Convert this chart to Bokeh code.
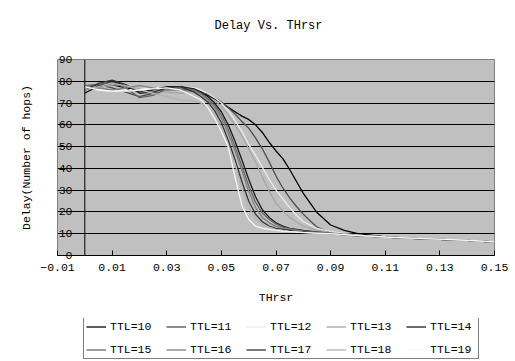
from bokeh.plotting import figure
from bokeh.layouts import column
from bokeh.models import (FixedTicker, CustomJSTickFormatter, Legend, LegendItem, Title, Span,
                          Range1d)
from bokeh.embed import file_html
from bokeh.resources import INLINE

# ---- data ----
THRSR = [0, 0.005, 0.01, 0.015, 0.02, 0.025, 0.03, 0.035, 0.04, 0.0425, 0.045, 0.0475,
         0.05, 0.0525, 0.055, 0.0575, 0.06, 0.0625, 0.065, 0.0675, 0.07, 0.0725, 0.075,
         0.0775, 0.08, 0.085, 0.09, 0.095, 0.1, 0.11, 0.12, 0.13, 0.14, 0.15]

TTL10 = [76, 77.5, 78.5, 77, 76, 76.5, 77.5, 77.5, 76, 75, 73.5, 72, 70, 68, 66, 64, 62.5, 60,
         56.5, 52, 48, 44.5, 39.5, 34, 28.5, 19.7, 14, 11.5, 10, 8.6, 7.9, 7.4, 6.9, 6.2]
TTL11 = [78, 78.5, 77, 75, 73, 74.5, 76.5, 76.5, 76, 75, 74, 72.5, 70.5, 68, 65, 61.5, 58.5, 54,
         49, 43, 36.5, 31, 26.5, 22.5, 19, 13, 10.5, 9.8, 9.3, 8.5, 7.9, 7.4, 6.9, 6.2]
TTL12 = [77, 76, 75.5, 76, 76.5, 77, 77.5, 77, 77, 76, 74.5, 72.5, 70, 66.5, 62, 57, 51, 46,
         40.5, 35, 30, 26, 22, 18.5, 15.5, 12.5, 11, 10, 9.3, 8.4, 7.9, 7.4, 6.9, 6.2]
TTL13 = [75, 77, 78.5, 78, 76.5, 75.5, 75, 74.5, 75.5, 74.5, 73, 71, 68.5, 64.5, 60, 55, 49, 43,
         36, 29.5, 24, 20.5, 17.5, 15.5, 13.5, 11.5, 10.5, 9.8, 9.2, 8.4, 7.9, 7.4, 6.9, 6.2]
TTL14 = [74.5, 78, 80, 78, 75, 76, 77.5, 77.5, 76.5, 75, 73, 70, 66, 60, 52.5, 44, 35, 27,
         21, 17.5, 15, 13.5, 12.5, 12, 11.5, 10.8, 10.2, 9.6, 9.1, 8.4, 7.9, 7.4, 6.9, 6.2]
TTL15 = [77.5, 78.5, 79.5, 77, 72.5, 73.5, 76.5, 77, 76, 74.5, 72, 69, 64.5, 58, 50, 41, 32, 24.5,
         19.5, 16.5, 14.5, 13, 12.3, 11.8, 11.3, 10.6, 10.1, 9.6, 9.1, 8.4, 7.9, 7.4, 6.9, 6.2]
TTL16 = [78, 77, 76, 77, 78, 77, 76, 76, 75.5, 74, 71.5, 68, 63, 56, 48, 39, 29.5, 22,
         17.5, 15, 13.5, 12.5, 12, 11.5, 11, 10.5, 10, 9.5, 9.1, 8.4, 7.9, 7.4, 6.9, 6.2]
TTL17 = [76, 79, 80.5, 78.5, 74.5, 75, 77, 77.5, 75, 73, 70.5, 66.5, 61, 53, 44, 34, 25, 19,
         15.5, 13.5, 12.5, 12, 11.5, 11, 10.8, 10.4, 10, 9.5, 9, 8.4, 7.9, 7.4, 6.9, 6.2]
TTL18 = [76, 77.5, 79, 78, 76, 74.5, 73, 71.5, 71, 70, 68, 64.5, 59, 51, 42, 31, 22, 17,
         14.5, 13, 12, 11.5, 11, 10.7, 10.5, 10.2, 9.9, 9.5, 9, 8.4, 7.9, 7.4, 6.9, 6.2]
TTL19 = [77.5, 76, 75.5, 75.5, 76, 76.5, 77, 76, 73, 71.5, 68, 63, 57, 50, 36, 23, 16.5, 13.5,
         12.5, 12, 11.5, 11.2, 11, 10.8, 10.6, 10.3, 10, 9.6, 9.2, 8.5, 8, 7.5, 7, 6.3]

SERIES_NAMES = ["TTL=10", "TTL=11", "TTL=12", "TTL=13", "TTL=14",
                "TTL=15", "TTL=16", "TTL=17", "TTL=18", "TTL=19"]
SERIES_VALUES = [TTL10, TTL11, TTL12, TTL13, TTL14, TTL15, TTL16, TTL17, TTL18, TTL19]
COLORS = ["#000000", "#4d4d4d", "#ebebeb", "#a6a6a6", "#1a1a1a",
          "#666666", "#808080", "#333333", "#b3b3b3", "#f7f7f7"]

X_TICKS = [-0.01, 0.01, 0.03, 0.05, 0.07, 0.09, 0.11, 0.13, 0.15]
Y_TICKS = [0, 10, 20, 30, 40, 50, 60, 70, 80, 90]
GRID_TICKS = [10, 20, 30, 40, 50, 60, 70, 80]

TITLE = "Delay Vs. THrsr"
X_LABEL = "THrsr"
Y_LABEL = "Delay(Number of hops)"

FONT = "Liberation Mono"

# ---------------- main chart ----------------
p = figure(width=515, height=318, x_range=(-0.01, 0.15), y_range=(0, 90),
           output_backend="svg", toolbar_location=None,
           min_border_left=57, min_border_top=59, min_border_right=21, min_border_bottom=63)

p.background_fill_color = "#c0c0c0"
p.border_fill_color = "white"
p.outline_line_color = "#808080"
p.outline_line_width = 1
p.title.text = ""

p.xgrid.visible = False
p.ygrid.ticker = FixedTicker(ticks=GRID_TICKS)
p.ygrid.grid_line_color = "black"
p.ygrid.grid_line_width = 1

# y axis: labels drawn just left of x = 0 (inside the plot area)
yax = p.yaxis[0]
yax.ticker = FixedTicker(ticks=Y_TICKS)
yax.major_tick_in = 0
yax.major_tick_out = 0
yax.minor_tick_line_color = None
yax.major_label_standoff = -15
yax.axis_line_color = None
yax.major_label_text_font = FONT
yax.major_label_text_font_size = "11.5px"
yax.major_label_text_color = "black"

p.add_layout(Span(location=0, dimension="height", line_color="black", line_width=1))

xax = p.xaxis[0]
xax.ticker = FixedTicker(ticks=X_TICKS)
xax.formatter = CustomJSTickFormatter(
    code="return (tick < 0 ? '\u2212' : '') + Math.abs(tick).toFixed(2);")
xax.major_tick_in = 5
xax.major_tick_out = 0
xax.minor_tick_line_color = None
xax.major_label_standoff = 8
xax.axis_line_color = "black"
xax.major_tick_line_color = "black"
xax.major_label_text_font = FONT
xax.major_label_text_font_size = "11.5px"
xax.major_label_text_color = "black"
xax.axis_label = X_LABEL
xax.axis_label_text_font = FONT
xax.axis_label_text_font_size = "11.5px"
xax.axis_label_text_font_style = "normal"
xax.axis_label_text_color = "black"
xax.axis_label_standoff = 17

# title (above) with an empty spacer between it and the plot area
p.add_layout(Title(text=" ", text_font_size="1px", standoff=23), "above")
p.add_layout(Title(text=TITLE, align="left", offset=157, standoff=2, text_font=FONT,
                   text_font_size="12px", text_font_style="normal", text_color="black"),
             "above")

# y-axis label (left) with a spacer
p.add_layout(Title(text=" ", text_font_size="1px", standoff=19), "left")
p.add_layout(Title(text=Y_LABEL, align="center", standoff=2, text_font=FONT,
                   text_font_size="11.5px", text_font_style="normal", text_color="black"),
             "left")

for vals, col in zip(SERIES_VALUES, COLORS):
    p.line(THRSR, vals, line_color=col, line_width=1.3)

# ---------------- legend strip ----------------
leg = figure(width=515, height=43, x_range=Range1d(10, 11), y_range=Range1d(1000, 1001),
             output_backend="svg", toolbar_location=None,
             x_axis_location=None, y_axis_location=None,
             min_border_left=0, min_border_right=0, min_border_top=0, min_border_bottom=0)
leg.outline_line_color = None
leg.background_fill_color = "white"
leg.border_fill_color = "white"
leg.grid.visible = False

items = []
for name, vals, col in zip(SERIES_NAMES, SERIES_VALUES, COLORS):
    r = leg.line(THRSR, vals, line_color=col, line_width=1.3)
    items.append(LegendItem(label=name, renderers=[r]))

legend = Legend(items=items, ncols=5, orientation="horizontal", location=(26, 2), margin=0,
                border_line_color="black", border_line_width=1,
                background_fill_color="white", background_fill_alpha=1,
                label_text_font=FONT, label_text_font_size="11.5px", label_text_color="black",
                glyph_width=20, glyph_height=13, label_height=13, label_width=46,
                label_standoff=4, spacing=10, padding=2)
leg.add_layout(legend, "center")

layout = column(p, leg, spacing=0)
open("out.html", "w").write(file_html(layout, INLINE))
